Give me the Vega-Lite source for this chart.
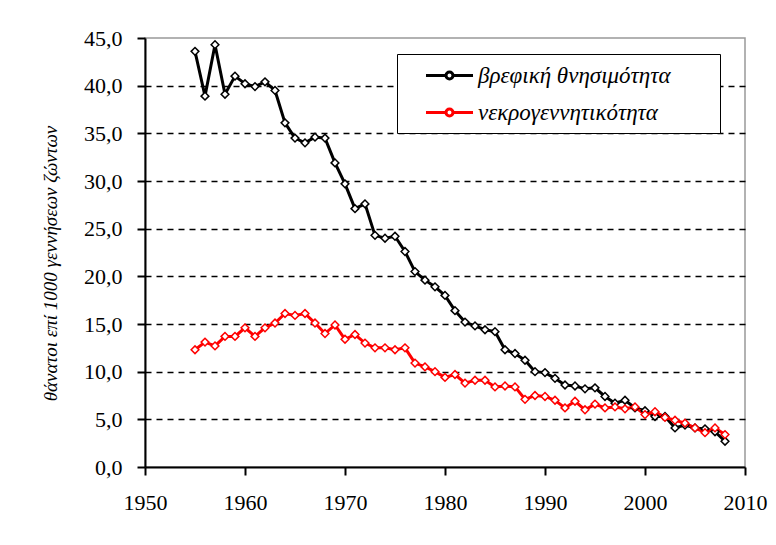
{
  "$schema": "https://vega.github.io/schema/vega-lite/v6.json",
  "width": 600,
  "height": 429,
  "autosize": {"type": "none"},
  "padding": {"left": 145, "top": 38, "right": 31, "bottom": 78},
  "background": "white",
  "config": {
    "locale": {"number": {"decimal": ",", "thousands": ".", "grouping": [3], "currency": ["", " €"]}},
    "view": {"stroke": "#999999", "strokeWidth": 1.5},
    "font": "Liberation Serif"
  },
  "datasets": {
    "series": [
      {"year": 1955, "value": 43.6, "series": "βρεφική θνησιμότητα"},
      {"year": 1956, "value": 38.9, "series": "βρεφική θνησιμότητα"},
      {"year": 1957, "value": 44.3, "series": "βρεφική θνησιμότητα"},
      {"year": 1958, "value": 39.1, "series": "βρεφική θνησιμότητα"},
      {"year": 1959, "value": 41.0, "series": "βρεφική θνησιμότητα"},
      {"year": 1960, "value": 40.2, "series": "βρεφική θνησιμότητα"},
      {"year": 1961, "value": 39.9, "series": "βρεφική θνησιμότητα"},
      {"year": 1962, "value": 40.4, "series": "βρεφική θνησιμότητα"},
      {"year": 1963, "value": 39.5, "series": "βρεφική θνησιμότητα"},
      {"year": 1964, "value": 36.1, "series": "βρεφική θνησιμότητα"},
      {"year": 1965, "value": 34.5, "series": "βρεφική θνησιμότητα"},
      {"year": 1966, "value": 34.0, "series": "βρεφική θνησιμότητα"},
      {"year": 1967, "value": 34.6, "series": "βρεφική θνησιμότητα"},
      {"year": 1968, "value": 34.5, "series": "βρεφική θνησιμότητα"},
      {"year": 1969, "value": 31.9, "series": "βρεφική θνησιμότητα"},
      {"year": 1970, "value": 29.7, "series": "βρεφική θνησιμότητα"},
      {"year": 1971, "value": 27.1, "series": "βρεφική θνησιμότητα"},
      {"year": 1972, "value": 27.6, "series": "βρεφική θνησιμότητα"},
      {"year": 1973, "value": 24.3, "series": "βρεφική θνησιμότητα"},
      {"year": 1974, "value": 24.0, "series": "βρεφική θνησιμότητα"},
      {"year": 1975, "value": 24.2, "series": "βρεφική θνησιμότητα"},
      {"year": 1976, "value": 22.6, "series": "βρεφική θνησιμότητα"},
      {"year": 1977, "value": 20.5, "series": "βρεφική θνησιμότητα"},
      {"year": 1978, "value": 19.6, "series": "βρεφική θνησιμότητα"},
      {"year": 1979, "value": 18.9, "series": "βρεφική θνησιμότητα"},
      {"year": 1980, "value": 18.0, "series": "βρεφική θνησιμότητα"},
      {"year": 1981, "value": 16.4, "series": "βρεφική θνησιμότητα"},
      {"year": 1982, "value": 15.2, "series": "βρεφική θνησιμότητα"},
      {"year": 1983, "value": 14.8, "series": "βρεφική θνησιμότητα"},
      {"year": 1984, "value": 14.4, "series": "βρεφική θνησιμότητα"},
      {"year": 1985, "value": 14.2, "series": "βρεφική θνησιμότητα"},
      {"year": 1986, "value": 12.3, "series": "βρεφική θνησιμότητα"},
      {"year": 1987, "value": 11.9, "series": "βρεφική θνησιμότητα"},
      {"year": 1988, "value": 11.2, "series": "βρεφική θνησιμότητα"},
      {"year": 1989, "value": 10.0, "series": "βρεφική θνησιμότητα"},
      {"year": 1990, "value": 9.9, "series": "βρεφική θνησιμότητα"},
      {"year": 1991, "value": 9.3, "series": "βρεφική θνησιμότητα"},
      {"year": 1992, "value": 8.6, "series": "βρεφική θνησιμότητα"},
      {"year": 1993, "value": 8.5, "series": "βρεφική θνησιμότητα"},
      {"year": 1994, "value": 8.2, "series": "βρεφική θνησιμότητα"},
      {"year": 1995, "value": 8.3, "series": "βρεφική θνησιμότητα"},
      {"year": 1996, "value": 7.4, "series": "βρεφική θνησιμότητα"},
      {"year": 1997, "value": 6.7, "series": "βρεφική θνησιμότητα"},
      {"year": 1998, "value": 7.0, "series": "βρεφική θνησιμότητα"},
      {"year": 1999, "value": 6.2, "series": "βρεφική θνησιμότητα"},
      {"year": 2000, "value": 5.9, "series": "βρεφική θνησιμότητα"},
      {"year": 2001, "value": 5.3, "series": "βρεφική θνησιμότητα"},
      {"year": 2002, "value": 5.3, "series": "βρεφική θνησιμότητα"},
      {"year": 2003, "value": 4.1, "series": "βρεφική θνησιμότητα"},
      {"year": 2004, "value": 4.4, "series": "βρεφική θνησιμότητα"},
      {"year": 2005, "value": 4.1, "series": "βρεφική θνησιμότητα"},
      {"year": 2006, "value": 4.0, "series": "βρεφική θνησιμότητα"},
      {"year": 2007, "value": 3.7, "series": "βρεφική θνησιμότητα"},
      {"year": 2008, "value": 2.7, "series": "βρεφική θνησιμότητα"},
      {"year": 1955, "value": 12.3, "series": "νεκρογεννητικότητα"},
      {"year": 1956, "value": 13.1, "series": "νεκρογεννητικότητα"},
      {"year": 1957, "value": 12.7, "series": "νεκρογεννητικότητα"},
      {"year": 1958, "value": 13.7, "series": "νεκρογεννητικότητα"},
      {"year": 1959, "value": 13.7, "series": "νεκρογεννητικότητα"},
      {"year": 1960, "value": 14.6, "series": "νεκρογεννητικότητα"},
      {"year": 1961, "value": 13.7, "series": "νεκρογεννητικότητα"},
      {"year": 1962, "value": 14.6, "series": "νεκρογεννητικότητα"},
      {"year": 1963, "value": 15.1, "series": "νεκρογεννητικότητα"},
      {"year": 1964, "value": 16.1, "series": "νεκρογεννητικότητα"},
      {"year": 1965, "value": 15.9, "series": "νεκρογεννητικότητα"},
      {"year": 1966, "value": 16.1, "series": "νεκρογεννητικότητα"},
      {"year": 1967, "value": 15.1, "series": "νεκρογεννητικότητα"},
      {"year": 1968, "value": 14.0, "series": "νεκρογεννητικότητα"},
      {"year": 1969, "value": 14.9, "series": "νεκρογεννητικότητα"},
      {"year": 1970, "value": 13.4, "series": "νεκρογεννητικότητα"},
      {"year": 1971, "value": 13.9, "series": "νεκρογεννητικότητα"},
      {"year": 1972, "value": 13.0, "series": "νεκρογεννητικότητα"},
      {"year": 1973, "value": 12.5, "series": "νεκρογεννητικότητα"},
      {"year": 1974, "value": 12.5, "series": "νεκρογεννητικότητα"},
      {"year": 1975, "value": 12.3, "series": "νεκρογεννητικότητα"},
      {"year": 1976, "value": 12.5, "series": "νεκρογεννητικότητα"},
      {"year": 1977, "value": 10.9, "series": "νεκρογεννητικότητα"},
      {"year": 1978, "value": 10.5, "series": "νεκρογεννητικότητα"},
      {"year": 1979, "value": 10.0, "series": "νεκρογεννητικότητα"},
      {"year": 1980, "value": 9.4, "series": "νεκρογεννητικότητα"},
      {"year": 1981, "value": 9.7, "series": "νεκρογεννητικότητα"},
      {"year": 1982, "value": 8.8, "series": "νεκρογεννητικότητα"},
      {"year": 1983, "value": 9.1, "series": "νεκρογεννητικότητα"},
      {"year": 1984, "value": 9.1, "series": "νεκρογεννητικότητα"},
      {"year": 1985, "value": 8.4, "series": "νεκρογεννητικότητα"},
      {"year": 1986, "value": 8.5, "series": "νεκρογεννητικότητα"},
      {"year": 1987, "value": 8.4, "series": "νεκρογεννητικότητα"},
      {"year": 1988, "value": 7.1, "series": "νεκρογεννητικότητα"},
      {"year": 1989, "value": 7.5, "series": "νεκρογεννητικότητα"},
      {"year": 1990, "value": 7.4, "series": "νεκρογεννητικότητα"},
      {"year": 1991, "value": 7.0, "series": "νεκρογεννητικότητα"},
      {"year": 1992, "value": 6.2, "series": "νεκρογεννητικότητα"},
      {"year": 1993, "value": 6.9, "series": "νεκρογεννητικότητα"},
      {"year": 1994, "value": 6.0, "series": "νεκρογεννητικότητα"},
      {"year": 1995, "value": 6.6, "series": "νεκρογεννητικότητα"},
      {"year": 1996, "value": 6.2, "series": "νεκρογεννητικότητα"},
      {"year": 1997, "value": 6.3, "series": "νεκρογεννητικότητα"},
      {"year": 1998, "value": 6.1, "series": "νεκρογεννητικότητα"},
      {"year": 1999, "value": 6.3, "series": "νεκρογεννητικότητα"},
      {"year": 2000, "value": 5.5, "series": "νεκρογεννητικότητα"},
      {"year": 2001, "value": 5.8, "series": "νεκρογεννητικότητα"},
      {"year": 2002, "value": 5.2, "series": "νεκρογεννητικότητα"},
      {"year": 2003, "value": 4.9, "series": "νεκρογεννητικότητα"},
      {"year": 2004, "value": 4.6, "series": "νεκρογεννητικότητα"},
      {"year": 2005, "value": 4.1, "series": "νεκρογεννητικότητα"},
      {"year": 2006, "value": 3.6, "series": "νεκρογεννητικότητα"},
      {"year": 2007, "value": 4.1, "series": "νεκρογεννητικότητα"},
      {"year": 2008, "value": 3.4, "series": "νεκρογεννητικότητα"}
    ]
  },
  "data": {"name": "series"},
  "encoding": {
    "x": {
      "field": "year", "type": "quantitative",
      "scale": {"domain": [1950, 2010], "nice": false, "zero": false},
      "axis": {
        "title": null, "values": [1950, 1960, 1970, 1980, 1990, 2000, 2010], "format": "d",
        "grid": false, "domainColor": "black", "domainWidth": 2, "tickColor": "black", "tickWidth": 2, "tickSize": 8,
        "labelFont": "Liberation Serif", "labelFontSize": 22, "labelColor": "black", "labelPadding": 17,
        "labelFlush": false, "labelOverlap": false
      }
    },
    "y": {
      "field": "value", "type": "quantitative",
      "scale": {"domain": [0, 45], "nice": false},
      "axis": {
        "title": "θάνατοι επί 1000 γεννήσεων ζώντων",
        "titleFont": "Liberation Serif", "titleFontStyle": "italic", "titleFontWeight": "normal", "titleFontSize": 19, "titleColor": "black", "titlePadding": 23,
        "titleY": 225, "titleAlign": "center",
        "values": [0, 5, 10, 15, 20, 25, 30, 35, 40, 45], "format": ".1f",
        "grid": true,
        "gridColor": {"condition": {"test": "datum.value === 0 || datum.value === 45", "value": "transparent"}, "value": "black"},
        "gridDash": [6, 5], "gridWidth": 1.5,
        "domainColor": "black", "domainWidth": 2, "tickColor": "black", "tickWidth": 2, "tickSize": 8,
        "labelFont": "Liberation Serif", "labelFontSize": 22, "labelColor": "black", "labelPadding": 15
      }
    },
    "color": {
      "field": "series", "type": "nominal",
      "scale": {"domain": ["βρεφική θνησιμότητα", "νεκρογεννητικότητα"], "range": ["black", "red"]},
      "legend": {
        "title": "|", "titleOrient": "right", "titleColor": "white", "titleFontSize": 10, "titlePadding": 38,
        "orient": "none", "legendX": 252, "legendY": 16,
        "strokeColor": "black", "fillColor": "white", "padding": 8,
        "labelFont": "Liberation Serif", "labelFontStyle": "italic", "labelFontSize": 23, "labelColor": "black",
        "labelOffset": 15, "labelLimit": 400,
        "rowPadding": 11,
        "symbolOffset": 31,
        "symbolType": "M-1.96,0L-0.29,0M0.29,0L1.96,0M-0.29,0A0.29,0.29 0 1 1 0.29,0A0.29,0.29 0 1 1 -0.29,0Z",
        "symbolSize": 576, "symbolStrokeWidth": 3, "symbolFillColor": "white"
      }
    }
  },
  "layer": [
    {"mark": {"type": "line", "strokeWidth": 3}},
    {"mark": {"type": "point", "shape": "diamond", "filled": false, "fill": "white", "fillOpacity": 1, "opacity": 1, "size": 60, "strokeWidth": 1.5}}
  ]
}
